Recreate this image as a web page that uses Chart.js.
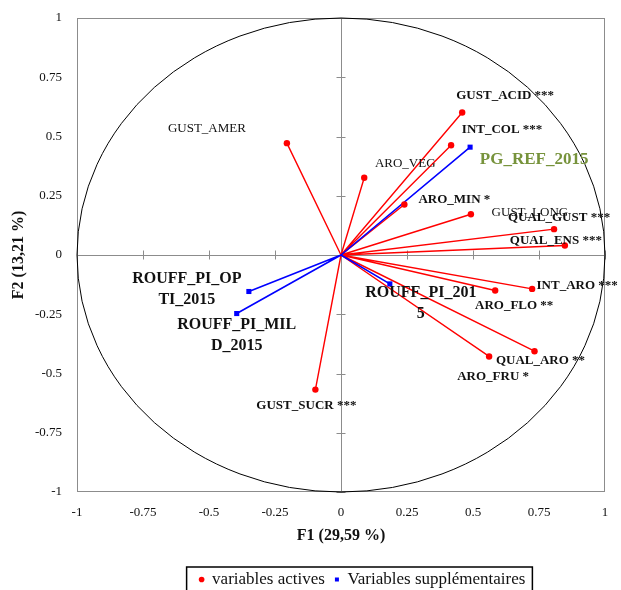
<!DOCTYPE html>
<html>
<head>
<meta charset="utf-8">
<script src="https://cdn.jsdelivr.net/npm/chart.js@4.4.1/dist/chart.umd.min.js"></script>
<style>
  body { margin: 0; background: #fff; }
  #wrap { width: 621px; height: 590px; }
</style>
</head>
<body>
<div id="wrap"><canvas id="cercle" width="621" height="590"></canvas></div>
<script>
// variables actives (F1, F2)
const activeNames = ['GUST_AMER', 'ARO_VEG', 'GUST_ACID ***', 'INT_COL ***', 'ARO_MIN *', 'GUST_LONG',
    'QUAL_GUST ***', 'QUAL_ENS ***', 'INT_ARO ***', 'ARO_FLO **', 'QUAL_ARO **', 'ARO_FRU *', 'GUST_SUCR ***'];
const activeF1 = [-0.205, 0.088, 0.459, 0.417, 0.240, 0.492, 0.807, 0.848, 0.724, 0.584, 0.733, 0.561, -0.097];
const activeF2 = [0.472, 0.326, 0.601, 0.463, 0.213, 0.172, 0.109, 0.040, -0.143, -0.150, -0.406, -0.428, -0.568];

// variables supplémentaires
const suppNames = ['PG_REF_2015', 'ROUFF_PI_2015', 'ROUFF_PI_OPTI_2015', 'ROUFF_PI_MILD_2015'];
const suppF1 = [0.489, 0.185, -0.349, -0.395];
const suppF2 = [0.455, -0.122, -0.154, -0.247];

const tickValues = [-1, -0.75, -0.5, -0.25, 0, 0.25, 0.5, 0.75, 1];

// label placement (pixel offsets of the text centre from the point)
const activeLabelOffsets = [[-80, -15], [41, -14], [43, -17], [51, -16], [50, -5], [59, -2],
    [5, -12], [-9, -5], [45, -3], [19, 15], [6, 9], [4, 20], [-9, 16]];
const activeLabelBold = [false, false, true, true, true, false, true, true, true, true, true, true, true];
const suppLabelLines = [['PG_REF_2015'], ['ROUFF_PI_201', '5'], ['ROUFF_PI_OP', 'TI_2015'], ['ROUFF_PI_MIL', 'D_2015']];
const suppLabelOffsets = [[64, 12], [31, 9], [-62, -13], [0, 11]];
const suppLabelColors = ['#77933C', '#111', '#111', '#111'];

const SERIF = "'Liberation Serif', 'DejaVu Serif', serif";
const GRIS = '#8c8c8c';
const LEGEND_SHIFT = 60;

function points(xs, ys) {
    return xs.map((x, i) => ({ x: x, y: ys[i] }));
}

function vecteurs(xs, ys) {
    const out = [];
    xs.forEach((x, i) => {
        out.push({ x: 0, y: 0 }, { x: x, y: ys[i] }, { x: null, y: null });
    });
    return out;
}

const cadrePlugin = {
    id: 'cadre',
    afterUpdate(chart) {
        // légende décalée vers la droite comme dans l'original
        const lg = chart.legend;
        if (!lg) return;
        lg.left += LEGEND_SHIFT;
        lg.right += LEGEND_SHIFT;
        lg.legendHitBoxes.forEach(b => { b.left += LEGEND_SHIFT; });
    },
    beforeDatasetsDraw(chart) {
        const { ctx, chartArea: a, scales: { x, y } } = chart;
        const x0 = x.getPixelForValue(0), y0 = y.getPixelForValue(0);
        ctx.save();
        ctx.strokeStyle = GRIS;
        ctx.lineWidth = 1;
        ctx.strokeRect(a.left + 0.5, a.top + 0.5, a.width - 1, a.height - 1);
        ctx.beginPath();
        ctx.moveTo(a.left, Math.round(y0) + 0.5);
        ctx.lineTo(a.right, Math.round(y0) + 0.5);
        ctx.moveTo(Math.round(x0) + 0.5, a.top);
        ctx.lineTo(Math.round(x0) + 0.5, a.bottom);
        tickValues.forEach(v => {
            const px = Math.round(x.getPixelForValue(v)) + 0.5;
            ctx.moveTo(px, y0 - 4.5);
            ctx.lineTo(px, y0 + 4.5);
            const py = Math.round(y.getPixelForValue(v)) + 0.5;
            ctx.moveTo(x0 - 4.5, py);
            ctx.lineTo(x0 + 4.5, py);
        });
        ctx.stroke();
        // cercle des corrélations
        ctx.strokeStyle = '#000';
        ctx.beginPath();
        ctx.ellipse(x0, y0, x.getPixelForValue(1) - x0, y0 - y.getPixelForValue(1), 0, 0, Math.PI * 2);
        ctx.stroke();
        ctx.restore();
    },
    afterDatasetsDraw(chart) {
        const { ctx, scales: { x, y } } = chart;
        ctx.save();
        ctx.textAlign = 'center';
        ctx.textBaseline = 'middle';
        activeNames.forEach((n, i) => {
            ctx.font = (activeLabelBold[i] ? 'bold ' : '') + '13px ' + SERIF;
            ctx.fillStyle = '#111';
            const px = x.getPixelForValue(activeF1[i]) + activeLabelOffsets[i][0];
            const py = y.getPixelForValue(activeF2[i]) + activeLabelOffsets[i][1];
            ctx.fillText(n, px, py);
        });
        suppNames.forEach((n, i) => {
            ctx.font = 'bold ' + (i === 0 ? 17 : 16) + 'px ' + SERIF;
            ctx.fillStyle = suppLabelColors[i];
            const px = x.getPixelForValue(suppF1[i]) + suppLabelOffsets[i][0];
            const py = y.getPixelForValue(suppF2[i]) + suppLabelOffsets[i][1];
            suppLabelLines[i].forEach((l, k) => ctx.fillText(l, px, py + k * 21));
        });
        ctx.restore();
    },
    afterDraw(chart) {
        const lg = chart.legend;
        if (!lg || !lg.legendHitBoxes.length) return;
        const boxes = lg.legendHitBoxes;
        const first = boxes[0], last = boxes[boxes.length - 1];
        const ctx = chart.ctx;
        ctx.save();
        ctx.strokeStyle = '#000';
        ctx.lineWidth = 1.5;
        const left = first.left - 13, right = last.left + last.width + 7;
        const top = first.top - 4;
        ctx.strokeRect(left, top, right - left, first.height + 30);
        ctx.restore();
    }
};

new Chart(document.getElementById('cercle'), {
    type: 'scatter',
    data: {
        datasets: [
            {
                label: 'variables actives',
                data: points(activeF1, activeF2),
                backgroundColor: '#ff0000',
                borderColor: '#ff0000',
                pointStyle: 'circle',
                pointRadius: 3.2,
                pointBorderWidth: 0
            },
            {
                label: 'Variables supplémentaires',
                data: points(suppF1, suppF2),
                backgroundColor: '#0000ff',
                borderColor: '#0000ff',
                pointStyle: 'rect',
                pointRadius: 3.6,
                pointBorderWidth: 0
            },
            {
                label: 'vec_supp',
                type: 'line',
                data: vecteurs(suppF1, suppF2),
                borderColor: '#0000ff',
                borderWidth: 1.6,
                pointRadius: 0,
                spanGaps: false
            },
            {
                label: 'vec_act',
                type: 'line',
                data: vecteurs(activeF1, activeF2),
                borderColor: '#ff0000',
                borderWidth: 1.4,
                pointRadius: 0,
                spanGaps: false
            }
        ]
    },
    options: {
        responsive: false,
        animation: false,
        layout: { padding: { top: 18, right: 16, left: 0, bottom: -8 } },
        plugins: {
            tooltip: { enabled: false },
            legend: {
                position: 'bottom',
                labels: {
                    filter: item => item.datasetIndex < 2,
                    usePointStyle: true,
                    boxWidth: 4,
                    boxHeight: 4,
                    padding: 10,
                    color: '#111',
                    font: { family: SERIF, size: 17 }
                }
            }
        },
        scales: {
            x: {
                type: 'linear',
                min: -1,
                max: 1,
                afterBuildTicks: s => { s.ticks = tickValues.map(v => ({ value: v })); },
                afterFit: s => { s.height = 69; },
                grid: { display: false },
                border: { display: false },
                ticks: {
                    color: '#111',
                    padding: 5,
                    font: { family: SERIF, size: 13 },
                    callback: v => String(v)
                },
                title: {
                    display: true,
                    text: 'F1 (29,59 %)',
                    color: '#111',
                    padding: { top: 4, bottom: 16 },
                    font: { family: SERIF, size: 16, weight: 'bold' }
                }
            },
            y: {
                type: 'linear',
                min: -1,
                max: 1,
                afterBuildTicks: s => { s.ticks = tickValues.map(v => ({ value: v })); },
                afterFit: s => { s.width = 77; },
                grid: { display: false },
                border: { display: false },
                ticks: {
                    color: '#111',
                    padding: 7,
                    font: { family: SERIF, size: 13 },
                    callback: v => String(v)
                },
                title: {
                    display: true,
                    text: 'F2 (13,21 %)',
                    color: '#111',
                    padding: { top: 9, bottom: 0 },
                    font: { family: SERIF, size: 16, weight: 'bold' }
                }
            }
        }
    },
    plugins: [cadrePlugin]
});
</script>
</body>
</html>
